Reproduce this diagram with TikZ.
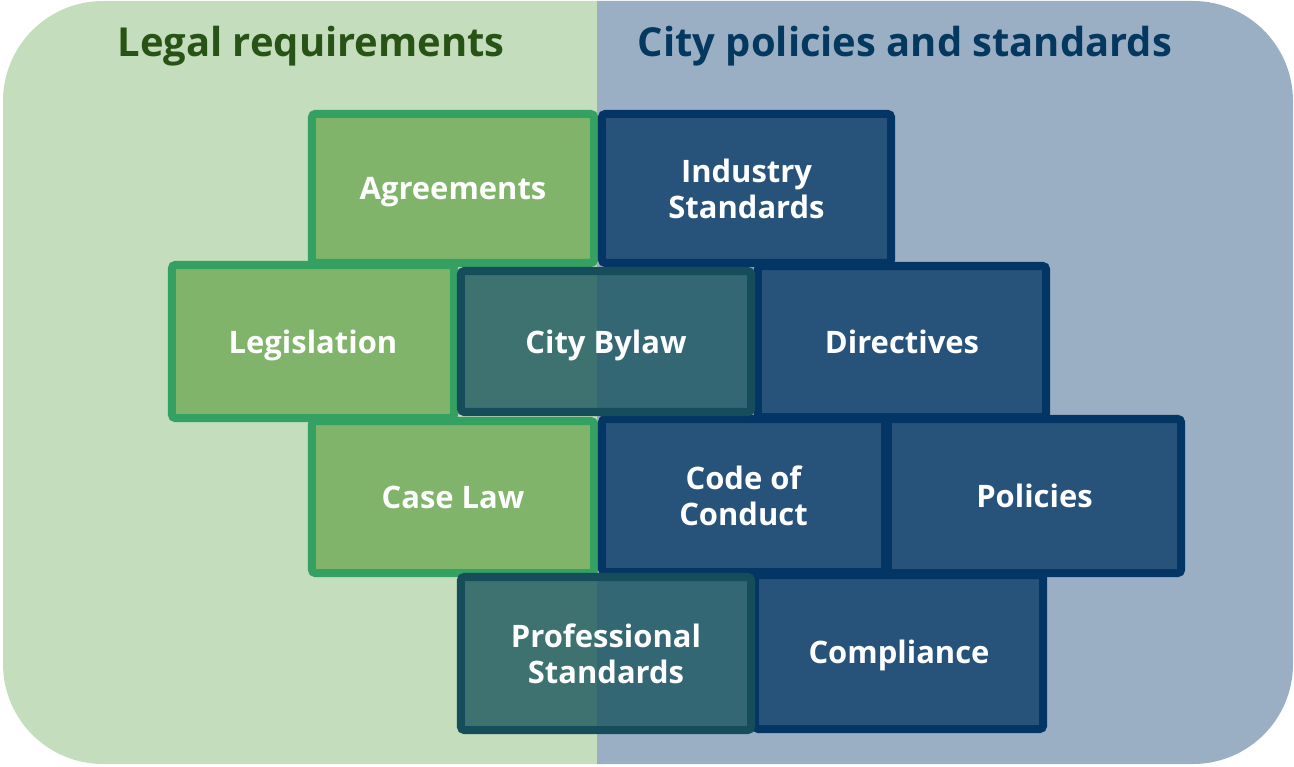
\documentclass[tikz,border=0pt]{standalone}
\usepackage{fontspec}
\setmainfont{Open Sans}
\usepackage{xcolor}
\usepackage{tikz}

\definecolor{legalbg}{HTML}{C4DDBC}
\definecolor{citybg}{HTML}{9AAFC4}
\definecolor{legalfill}{HTML}{80B46A}
\definecolor{legalline}{HTML}{34A062}
\definecolor{cityfill}{HTML}{27537B}
\definecolor{cityline}{HTML}{033665}
\definecolor{sharedfill}{HTML}{114F59}
\definecolor{sharedline}{HTML}{154D5A}
\definecolor{legaltitle}{HTML}{285316}
\definecolor{citytitle}{HTML}{05385F}

\newcommand{\boxfont}{\fontsize{8.8pt}{10.1pt}\selectfont\bfseries}
\newcommand{\titlefont}{\fontsize{11.35pt}{14pt}\selectfont\bfseries}

\tikzstyle{brick} = [rectangle, rounded corners=1pt, line width=2.3pt, minimum width=2.88cm, minimum height=1.52cm, inner sep=0pt, text depth=0pt, text=white, align=center, font=\boxfont]
\tikzstyle{legalbox} = [brick, draw=legalline, fill=legalfill]
\tikzstyle{citybox} = [brick, draw=cityline, fill=cityfill]
\tikzstyle{sharedbox} = [brick, draw=sharedline, fill=sharedfill, fill opacity=0.75, text opacity=1]
\tikzstyle{heading} = [anchor=base, font=\titlefont]

\begin{document}
\begin{tikzpicture}[x=0.01cm, y=-0.01cm]
				\useasboundingbox (0,0) rectangle (1294,767);
				% two halves of the rounded panel
				\begin{scope}
					\clip[rounded corners=1cm] (3,1) rectangle (1293,764);
					\fill[legalbg] (0,0) rectangle (597,767);
					\fill[citybg] (597,0) rectangle (1294,767);
				\end{scope}
				\node (legaltitle) [heading, text=legaltitle] at (311,57) {Legal requirements};
				\node (citytitle) [heading, text=citytitle] at (905,57) {City policies and standards};
				% legal side
				\node (agreements) [legalbox, minimum width=2.82cm, minimum height=1.49cm] at (453,188.5) {Agreements};
				\node (legislation) [legalbox, minimum width=2.82cm, minimum height=1.53cm] at (313,341.5) {Legislation};
				\node (caselaw) [legalbox, minimum width=2.82cm] at (453,497) {Case Law};
				% city side
				\node (industry) [citybox, minimum width=2.89cm, minimum height=1.49cm] at (746.5,188.5) {Industry\\Standards};
				\node (directives) [citybox, minimum height=1.51cm] at (902,341.5) {Directives};
				\node (conduct) [citybox, minimum width=2.83cm, minimum height=1.53cm] at (743.5,495.5) {Code of\\Conduct};
				\node (policies) [citybox, minimum width=2.93cm, minimum height=1.54cm] at (1034.5,496) {Policies};
				\node (compliance) [citybox, minimum height=1.54cm] at (899,652) {Compliance};
				% shared between both
				\node (bylaw) [sharedbox, minimum width=2.90cm, minimum height=1.41cm] at (606,341.5) {City Bylaw};
				\node (profstd) [sharedbox, minimum width=2.90cm, minimum height=1.53cm] at (606,653.5) {Professional\\Standards};
			\end{tikzpicture}
\end{document}
